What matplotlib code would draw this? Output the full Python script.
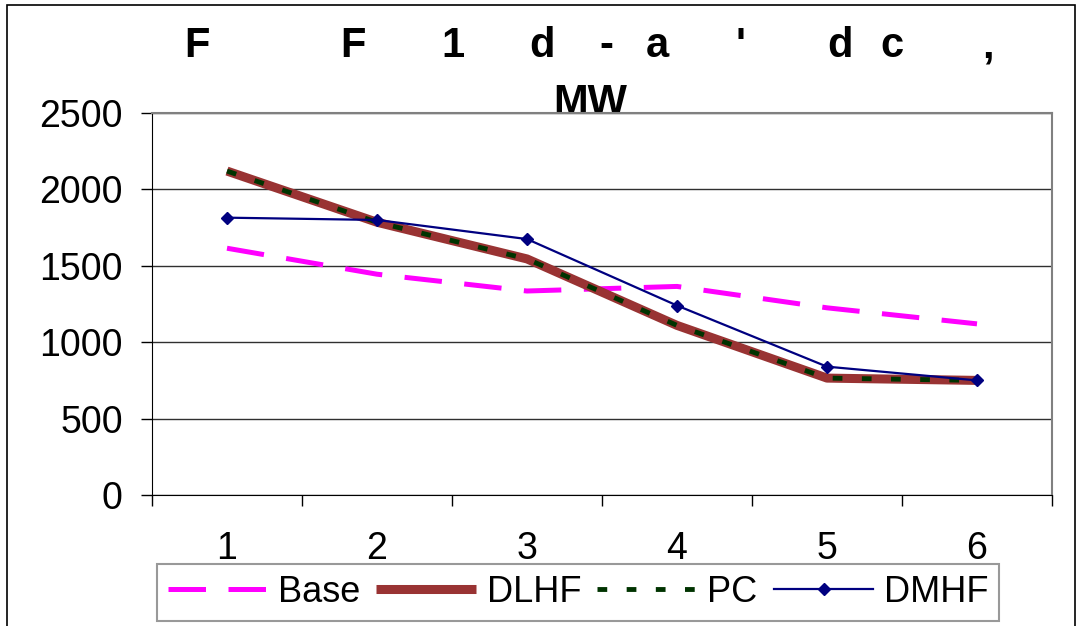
import matplotlib.pyplot as plt
import numpy as np
from matplotlib.patches import Rectangle

plt.rcParams['font.family'] = ['Liberation Sans', 'DejaVu Sans']

categories = ["1", "2", "3", "4", "5", "6"]
base = [1615, 1445, 1335, 1365, 1225, 1120]
dlhf = [2120, 1785, 1545, 1110, 765, 750]
pc = [2120, 1785, 1545, 1110, 765, 750]
dmhf = [1815, 1800, 1675, 1240, 840, 750]

title_chars = ["F", "F", "1", "d", "-", "a", "'", "d", "c", ","]
title_x = [197, 353, 453, 542, 606, 657, 740, 840, 892, 988]

W, H = 1079, 626
fig = plt.figure(figsize=(W / 100, H / 100), dpi=100)
ax = fig.add_axes([152 / W, 1 - 495 / H, 900 / W, 382 / H])

x = np.arange(1, len(categories) + 1)
ax.plot(x, base, color="#FF00FF", lw=3.6, linestyle=(0, (7.5, 4.5)), label="Base")
ax.plot(x, dlhf, color="#993333", lw=6.5, solid_capstyle="butt", label="DLHF")
ax.plot(x, pc, color="#003300", lw=3.5, linestyle=(0, (2, 4)), label="PC")
ax.plot(x, dmhf, color="#000080", lw=1.6, marker="D", markersize=6, label="DMHF")

ax.set_xlim(0.5, len(categories) + 0.5)
ax.set_ylim(0, 2500)
ax.set_yticks(np.arange(0, 2501, 500))
ax.yaxis.grid(True, color="#303030", lw=1)
ax.set_axisbelow(True)

ax.set_xticks(x)
ax.set_xticklabels(categories)
ax.set_xticks(np.arange(0.5, len(categories) + 1, 1), minor=True)
ax.tick_params(axis="x", which="major", length=0, pad=26, labelsize=27)
ax.tick_params(axis="x", which="minor", length=8, width=1, direction="out")
ax.tick_params(axis="y", length=8, width=1, direction="out", pad=13, labelsize=27)

for s in ["top", "right"]:
    ax.spines[s].set_color("#808080")
    ax.spines[s].set_linewidth(1.5)
for s in ["left", "bottom"]:
    ax.spines[s].set_color("black")

# title (spaced glyphs as in original)
for ch, cx in zip(title_chars, title_x):
    fig.text(cx / W, 1 - 57 / H, ch, ha="center", va="baseline",
             fontsize=30, fontweight="bold")
ax.text(590 / W, 1 - 114 / H, "MW", ha="center", va="baseline",
        fontsize=30, fontweight="bold", transform=fig.transFigure,
        zorder=1, clip_on=False)

leg = fig.legend(loc="upper left", bbox_to_anchor=(157 / W, 1 - 564 / H),
                 ncol=4, fontsize=26, frameon=True, fancybox=False,
                 edgecolor="#808080", handlelength=2.75, handletextpad=0.3,
                 columnspacing=0.45, borderpad=0.3, borderaxespad=0)
leg.get_frame().set_linewidth(1.5)

fig.patches.append(Rectangle((7 / W, -0.05), 1068 / W, 1.05 - 5 / H,
                             transform=fig.transFigure, fill=False,
                             edgecolor="black", lw=1.2))

fig.savefig("out.png", dpi=100)
